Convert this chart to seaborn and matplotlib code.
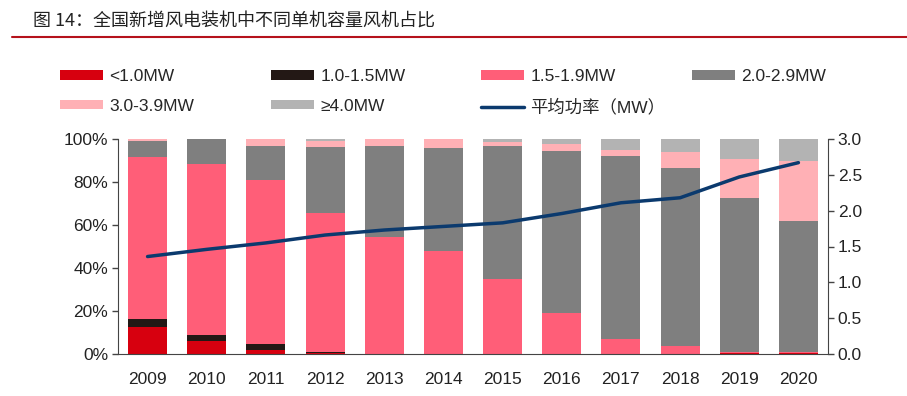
import numpy as np
import pandas as pd
import matplotlib
matplotlib.use("Agg")
import matplotlib.pyplot as plt
import seaborn as sns
from matplotlib.patches import Patch
from matplotlib.lines import Line2D

# data (share of new installs, %)
years = ["2009", "2010", "2011", "2012", "2013", "2014",
         "2015", "2016", "2017", "2018", "2019", "2020"]
lt_1 = [12.7, 6.0, 1.9, 0.4, 0, 0, 0, 0, 0, 0, 0.3, 0.3]
mw_10_15 = [3.6, 2.8, 2.7, 0.5, 0, 0, 0, 0, 0, 0, 0, 0]
mw_15_19 = [75.1, 79.4, 76.3, 64.6, 54.2, 48.0, 34.9, 18.9, 6.8, 3.7, 0.8, 0.7]
mw_20_29 = [7.8, 11.8, 15.8, 30.9, 42.5, 47.8, 62.0, 75.7, 85.1, 82.9, 71.3, 60.9]
mw_30_39 = [0.8, 0, 3.3, 2.8, 3.3, 4.2, 1.5, 3.1, 3.1, 7.3, 18.4, 28.0]
ge_4 = [0, 0, 0, 0.8, 0, 0, 1.6, 2.3, 5.0, 6.1, 9.2, 10.1]
avg_power = [1.36, 1.46, 1.55, 1.66, 1.73, 1.78, 1.83, 1.96, 2.11, 2.18, 2.47, 2.67]

labels = ["<1.0MW", "1.0-1.5MW", "1.5-1.9MW", "2.0-2.9MW", "3.0-3.9MW", "≥4.0MW"]
colors = ["#D7000F", "#231815", "#FF5E78", "#7F7F7F", "#FFB0B5", "#B3B3B3"]
series = [lt_1, mw_10_15, mw_15_19, mw_20_29, mw_30_39, ge_4]

sns.set_style("white")
plt.rcParams["font.family"] = ["Liberation Sans", "Noto Sans CJK SC", "DejaVu Sans"]

fig = plt.figure(figsize=(9.07, 3.96), dpi=100)
ax = fig.add_axes([118 / 907, 1 - 354 / 396, 710 / 907, 215 / 396])

# stacked bars: draw cumulative totals from the top layer down
cum = np.cumsum(np.array(series), axis=0)
for i in range(len(series) - 1, -1, -1):
    df = pd.DataFrame({"year": years, "val": cum[i]})
    sns.barplot(data=df, x="year", y="val", color=colors[i], width=0.66,
                saturation=1, ax=ax, zorder=2, linewidth=0, edgecolor="none")

ax.set_xlim(-0.5, len(years) - 0.5)
ax.set_ylim(0, 100)
ax.set_yticks([0, 20, 40, 60, 80, 100])
ax.set_yticklabels([f"{v}%" for v in range(0, 101, 20)])
ax.set_xlabel("")
ax.set_ylabel("")
ax.set_xticks(np.arange(-0.5, len(years)), minor=True)
ax.tick_params(axis="x", which="major", length=0, pad=13, labelsize=12.5, colors="#222222")
ax.tick_params(axis="x", which="minor", length=5, width=1, color="#444444", direction="out")
ax.tick_params(axis="y", length=4, width=1, color="#444444", labelsize=12.5, labelcolor="#222222", pad=3)
for s in ["left", "bottom"]:
    ax.spines[s].set_color("#444444")
ax.spines["top"].set_visible(False)
ax.spines["right"].set_visible(False)

ax2 = ax.twinx()
sns.pointplot(x=years, y=avg_power, color="#0B3A6E", markers="", linewidth=2.5, ax=ax2)
ax2.set_xlim(-0.5, len(years) - 0.5)
ax2.set_ylim(0, 3.0)
ax2.set_yticks(np.arange(0, 3.01, 0.5))
ax2.set_yticklabels([f"{v:.1f}" for v in np.arange(0, 3.01, 0.5)])
ax2.tick_params(axis="y", length=4, width=1, color="#444444", labelsize=12.5, labelcolor="#222222", pad=3)
ax2.spines["right"].set_color("#444444")
for s in ["top", "left", "bottom"]:
    ax2.spines[s].set_visible(False)
ax2.set_ylabel("")

# title and red rule
fig.text(33 / 907, 1 - 22 / 396, "图 14：全国新增风电装机中不同单机容量风机占比",
         fontsize=13, family=["Noto Sans CJK SC", "DejaVu Sans"], va="center", color="#222222")
fig.add_artist(Line2D([12 / 907, 1], [1 - 37 / 396] * 2, color="#B5121B", lw=1.5))

# legend, one column at a time
handles = [Patch(facecolor=c, edgecolor="none") for c in colors]
line_h = Line2D([], [], color="#0B3A6E", lw=2.5)
cols = [
    ([handles[0], handles[4]], [labels[0], labels[4]], 60),
    ([handles[1], handles[5]], [labels[1], labels[5]], 271),
    ([handles[2], line_h], [labels[2], "平均功率（MW）"], 481),
    ([handles[3]], [labels[3]], 692),
]
for h, l, x0 in cols:
    fig.legend(h, l, loc="upper left", bbox_to_anchor=(x0 / 907, 1 - 69 / 396),
               frameon=False, fontsize=12.5, handlelength=2.5, handleheight=0.48,
               handletextpad=0.35, labelspacing=0.85, borderaxespad=0, borderpad=0)

fig.savefig("out.png", dpi=100)
